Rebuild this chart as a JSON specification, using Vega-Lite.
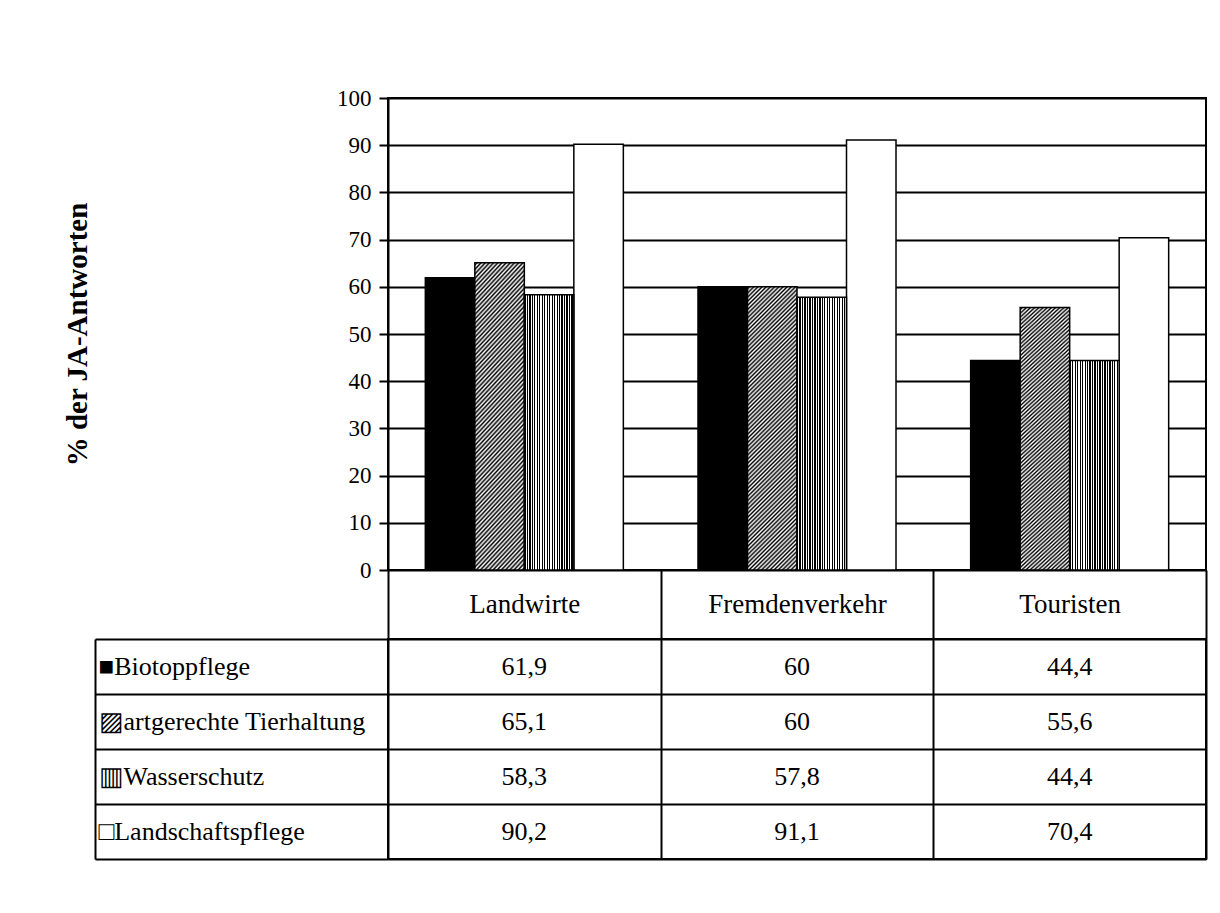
{
  "$schema": "https://vega.github.io/schema/vega-lite/v6.json",
  "autosize": {"type": "pad"},
  "padding": {"left": 62, "top": 86, "right": 10, "bottom": 10},
  "background": "white",
  "config": {
    "view": {"stroke": "black", "strokeWidth": 2},
    "axis": {
      "domainColor": "black", "domainWidth": 2,
      "tickColor": "black", "tickWidth": 2,
      "gridColor": "black", "gridWidth": 2, "gridOpacity": 1,
      "labelColor": "black", "labelFont": "Liberation Serif", "labelFontSize": 23,
      "titleColor": "black", "titleFont": "Liberation Serif"
    },
    "locale": {"number": {"decimal": ",", "thousands": ".", "grouping": [3], "currency": ["", " €"]}}
  },
  "data": {"values": [
    {"category": "Landwirte", "series": "Biotoppflege", "value": 61.9},
    {"category": "Landwirte", "series": "artgerechte Tierhaltung", "value": 65.1},
    {"category": "Landwirte", "series": "Wasserschutz", "value": 58.3},
    {"category": "Landwirte", "series": "Landschaftspflege", "value": 90.2},
    {"category": "Fremdenverkehr", "series": "Biotoppflege", "value": 60},
    {"category": "Fremdenverkehr", "series": "artgerechte Tierhaltung", "value": 60},
    {"category": "Fremdenverkehr", "series": "Wasserschutz", "value": 57.8},
    {"category": "Fremdenverkehr", "series": "Landschaftspflege", "value": 91.1},
    {"category": "Touristen", "series": "Biotoppflege", "value": 44.4},
    {"category": "Touristen", "series": "artgerechte Tierhaltung", "value": 55.6},
    {"category": "Touristen", "series": "Wasserschutz", "value": 44.4},
    {"category": "Touristen", "series": "Landschaftspflege", "value": 70.4}
  ]},
  "bounds": "flush",
  "spacing": 69,
  "vconcat": [
    {
      "width": 818,
      "height": 472,
      "encoding": {
        "x": {"field": "category", "type": "nominal", "sort": ["Landwirte", "Fremdenverkehr", "Touristen"], "scale": {"paddingInner": 0, "paddingOuter": 0}, "axis": null},
        "xOffset": {"field": "series", "type": "nominal", "scale": {"domain": ["Biotoppflege", "artgerechte Tierhaltung", "Wasserschutz", "Landschaftspflege"], "paddingInner": 0, "paddingOuter": 0.754}},
        "y": {"field": "value", "type": "quantitative", "scale": {"domain": [0, 100], "nice": false},
          "axis": {"values": [0, 10, 20, 30, 40, 50, 60, 70, 80, 90, 100], "grid": true, "tickSize": 9, "labelPadding": 8,
            "title": "% der JA-Antworten", "titleFontSize": 29, "titleFontWeight": "bold", "titlePadding": 244}}
      },
      "layer": [
        {
          "transform": [{"filter": "datum.series === 'Biotoppflege' || datum.series === 'Landschaftspflege'"}],
          "mark": {"type": "bar", "stroke": "black", "strokeWidth": 1.5},
          "encoding": {"fill": {"condition": {"test": "datum.series === 'Biotoppflege'", "value": "black"}, "value": "white"}}
        },
        {
          "transform": [{"filter": "datum.series === 'artgerechte Tierhaltung'"}],
          "mark": {"type": "bar", "stroke": "black", "strokeWidth": 1.5,
            "fill": {"gradient": "linear", "x1": 0, "y1": 0, "x2": 0.198, "y2": 1.1395, "stops": [
              {"offset": 0, "color": "#fff"}, {"offset": 0.00625, "color": "#000"}, {"offset": 0.0125, "color": "#fff"}, {"offset": 0.01875, "color": "#000"}, {"offset": 0.025, "color": "#fff"}, {"offset": 0.03125, "color": "#000"}, {"offset": 0.0375, "color": "#fff"}, {"offset": 0.04375, "color": "#000"},
              {"offset": 0.05, "color": "#fff"}, {"offset": 0.05625, "color": "#000"}, {"offset": 0.0625, "color": "#fff"}, {"offset": 0.06875, "color": "#000"}, {"offset": 0.075, "color": "#fff"}, {"offset": 0.08125, "color": "#000"}, {"offset": 0.0875, "color": "#fff"}, {"offset": 0.09375, "color": "#000"},
              {"offset": 0.1, "color": "#fff"}, {"offset": 0.10625, "color": "#000"}, {"offset": 0.1125, "color": "#fff"}, {"offset": 0.11875, "color": "#000"}, {"offset": 0.125, "color": "#fff"}, {"offset": 0.13125, "color": "#000"}, {"offset": 0.1375, "color": "#fff"}, {"offset": 0.14375, "color": "#000"},
              {"offset": 0.15, "color": "#fff"}, {"offset": 0.15625, "color": "#000"}, {"offset": 0.1625, "color": "#fff"}, {"offset": 0.16875, "color": "#000"}, {"offset": 0.175, "color": "#fff"}, {"offset": 0.18125, "color": "#000"}, {"offset": 0.1875, "color": "#fff"}, {"offset": 0.19375, "color": "#000"},
              {"offset": 0.2, "color": "#fff"}, {"offset": 0.20625, "color": "#000"}, {"offset": 0.2125, "color": "#fff"}, {"offset": 0.21875, "color": "#000"}, {"offset": 0.225, "color": "#fff"}, {"offset": 0.23125, "color": "#000"}, {"offset": 0.2375, "color": "#fff"}, {"offset": 0.24375, "color": "#000"},
              {"offset": 0.25, "color": "#fff"}, {"offset": 0.25625, "color": "#000"}, {"offset": 0.2625, "color": "#fff"}, {"offset": 0.26875, "color": "#000"}, {"offset": 0.275, "color": "#fff"}, {"offset": 0.28125, "color": "#000"}, {"offset": 0.2875, "color": "#fff"}, {"offset": 0.29375, "color": "#000"},
              {"offset": 0.3, "color": "#fff"}, {"offset": 0.30625, "color": "#000"}, {"offset": 0.3125, "color": "#fff"}, {"offset": 0.31875, "color": "#000"}, {"offset": 0.325, "color": "#fff"}, {"offset": 0.33125, "color": "#000"}, {"offset": 0.3375, "color": "#fff"}, {"offset": 0.34375, "color": "#000"},
              {"offset": 0.35, "color": "#fff"}, {"offset": 0.35625, "color": "#000"}, {"offset": 0.3625, "color": "#fff"}, {"offset": 0.36875, "color": "#000"}, {"offset": 0.375, "color": "#fff"}, {"offset": 0.38125, "color": "#000"}, {"offset": 0.3875, "color": "#fff"}, {"offset": 0.39375, "color": "#000"},
              {"offset": 0.4, "color": "#fff"}, {"offset": 0.40625, "color": "#000"}, {"offset": 0.4125, "color": "#fff"}, {"offset": 0.41875, "color": "#000"}, {"offset": 0.425, "color": "#fff"}, {"offset": 0.43125, "color": "#000"}, {"offset": 0.4375, "color": "#fff"}, {"offset": 0.44375, "color": "#000"},
              {"offset": 0.45, "color": "#fff"}, {"offset": 0.45625, "color": "#000"}, {"offset": 0.4625, "color": "#fff"}, {"offset": 0.46875, "color": "#000"}, {"offset": 0.475, "color": "#fff"}, {"offset": 0.48125, "color": "#000"}, {"offset": 0.4875, "color": "#fff"}, {"offset": 0.49375, "color": "#000"},
              {"offset": 0.5, "color": "#fff"}, {"offset": 0.50625, "color": "#000"}, {"offset": 0.5125, "color": "#fff"}, {"offset": 0.51875, "color": "#000"}, {"offset": 0.525, "color": "#fff"}, {"offset": 0.53125, "color": "#000"}, {"offset": 0.5375, "color": "#fff"}, {"offset": 0.54375, "color": "#000"},
              {"offset": 0.55, "color": "#fff"}, {"offset": 0.55625, "color": "#000"}, {"offset": 0.5625, "color": "#fff"}, {"offset": 0.56875, "color": "#000"}, {"offset": 0.575, "color": "#fff"}, {"offset": 0.58125, "color": "#000"}, {"offset": 0.5875, "color": "#fff"}, {"offset": 0.59375, "color": "#000"},
              {"offset": 0.6, "color": "#fff"}, {"offset": 0.60625, "color": "#000"}, {"offset": 0.6125, "color": "#fff"}, {"offset": 0.61875, "color": "#000"}, {"offset": 0.625, "color": "#fff"}, {"offset": 0.63125, "color": "#000"}, {"offset": 0.6375, "color": "#fff"}, {"offset": 0.64375, "color": "#000"},
              {"offset": 0.65, "color": "#fff"}, {"offset": 0.65625, "color": "#000"}, {"offset": 0.6625, "color": "#fff"}, {"offset": 0.66875, "color": "#000"}, {"offset": 0.675, "color": "#fff"}, {"offset": 0.68125, "color": "#000"}, {"offset": 0.6875, "color": "#fff"}, {"offset": 0.69375, "color": "#000"},
              {"offset": 0.7, "color": "#fff"}, {"offset": 0.70625, "color": "#000"}, {"offset": 0.7125, "color": "#fff"}, {"offset": 0.71875, "color": "#000"}, {"offset": 0.725, "color": "#fff"}, {"offset": 0.73125, "color": "#000"}, {"offset": 0.7375, "color": "#fff"}, {"offset": 0.74375, "color": "#000"},
              {"offset": 0.75, "color": "#fff"}, {"offset": 0.75625, "color": "#000"}, {"offset": 0.7625, "color": "#fff"}, {"offset": 0.76875, "color": "#000"}, {"offset": 0.775, "color": "#fff"}, {"offset": 0.78125, "color": "#000"}, {"offset": 0.7875, "color": "#fff"}, {"offset": 0.79375, "color": "#000"},
              {"offset": 0.8, "color": "#fff"}, {"offset": 0.80625, "color": "#000"}, {"offset": 0.8125, "color": "#fff"}, {"offset": 0.81875, "color": "#000"}, {"offset": 0.825, "color": "#fff"}, {"offset": 0.83125, "color": "#000"}, {"offset": 0.8375, "color": "#fff"}, {"offset": 0.84375, "color": "#000"},
              {"offset": 0.85, "color": "#fff"}, {"offset": 0.85625, "color": "#000"}, {"offset": 0.8625, "color": "#fff"}, {"offset": 0.86875, "color": "#000"}, {"offset": 0.875, "color": "#fff"}, {"offset": 0.88125, "color": "#000"}, {"offset": 0.8875, "color": "#fff"}, {"offset": 0.89375, "color": "#000"},
              {"offset": 0.9, "color": "#fff"}, {"offset": 0.90625, "color": "#000"}, {"offset": 0.9125, "color": "#fff"}, {"offset": 0.91875, "color": "#000"}, {"offset": 0.925, "color": "#fff"}, {"offset": 0.93125, "color": "#000"}, {"offset": 0.9375, "color": "#fff"}, {"offset": 0.94375, "color": "#000"},
              {"offset": 0.95, "color": "#fff"}, {"offset": 0.95625, "color": "#000"}, {"offset": 0.9625, "color": "#fff"}, {"offset": 0.96875, "color": "#000"}, {"offset": 0.975, "color": "#fff"}, {"offset": 0.98125, "color": "#000"}, {"offset": 0.9875, "color": "#fff"}, {"offset": 0.99375, "color": "#000"},
              {"offset": 1, "color": "#fff"}
            ]}}
        },
        {
          "transform": [{"filter": "datum.series === 'Wasserschutz'"}],
          "mark": {"type": "bar", "stroke": "black", "strokeWidth": 1.5,
            "fill": {"gradient": "linear", "x1": 0, "y1": 0, "x2": 1, "y2": 0, "stops": [
              {"offset": 0, "color": "#000"}, {"offset": 0.025, "color": "#000"}, {"offset": 0.025, "color": "#fff"}, {"offset": 0.05, "color": "#fff"},
              {"offset": 0.05, "color": "#000"}, {"offset": 0.075, "color": "#000"}, {"offset": 0.075, "color": "#fff"}, {"offset": 0.1, "color": "#fff"},
              {"offset": 0.1, "color": "#000"}, {"offset": 0.125, "color": "#000"}, {"offset": 0.125, "color": "#fff"}, {"offset": 0.15, "color": "#fff"},
              {"offset": 0.15, "color": "#000"}, {"offset": 0.175, "color": "#000"}, {"offset": 0.175, "color": "#fff"}, {"offset": 0.2, "color": "#fff"},
              {"offset": 0.2, "color": "#000"}, {"offset": 0.225, "color": "#000"}, {"offset": 0.225, "color": "#fff"}, {"offset": 0.25, "color": "#fff"},
              {"offset": 0.25, "color": "#000"}, {"offset": 0.275, "color": "#000"}, {"offset": 0.275, "color": "#fff"}, {"offset": 0.3, "color": "#fff"},
              {"offset": 0.3, "color": "#000"}, {"offset": 0.325, "color": "#000"}, {"offset": 0.325, "color": "#fff"}, {"offset": 0.35, "color": "#fff"},
              {"offset": 0.35, "color": "#000"}, {"offset": 0.375, "color": "#000"}, {"offset": 0.375, "color": "#fff"}, {"offset": 0.4, "color": "#fff"},
              {"offset": 0.4, "color": "#000"}, {"offset": 0.425, "color": "#000"}, {"offset": 0.425, "color": "#fff"}, {"offset": 0.45, "color": "#fff"},
              {"offset": 0.45, "color": "#000"}, {"offset": 0.475, "color": "#000"}, {"offset": 0.475, "color": "#fff"}, {"offset": 0.5, "color": "#fff"},
              {"offset": 0.5, "color": "#000"}, {"offset": 0.525, "color": "#000"}, {"offset": 0.525, "color": "#fff"}, {"offset": 0.55, "color": "#fff"},
              {"offset": 0.55, "color": "#000"}, {"offset": 0.575, "color": "#000"}, {"offset": 0.575, "color": "#fff"}, {"offset": 0.6, "color": "#fff"},
              {"offset": 0.6, "color": "#000"}, {"offset": 0.625, "color": "#000"}, {"offset": 0.625, "color": "#fff"}, {"offset": 0.65, "color": "#fff"},
              {"offset": 0.65, "color": "#000"}, {"offset": 0.675, "color": "#000"}, {"offset": 0.675, "color": "#fff"}, {"offset": 0.7, "color": "#fff"},
              {"offset": 0.7, "color": "#000"}, {"offset": 0.725, "color": "#000"}, {"offset": 0.725, "color": "#fff"}, {"offset": 0.75, "color": "#fff"},
              {"offset": 0.75, "color": "#000"}, {"offset": 0.775, "color": "#000"}, {"offset": 0.775, "color": "#fff"}, {"offset": 0.8, "color": "#fff"},
              {"offset": 0.8, "color": "#000"}, {"offset": 0.825, "color": "#000"}, {"offset": 0.825, "color": "#fff"}, {"offset": 0.85, "color": "#fff"},
              {"offset": 0.85, "color": "#000"}, {"offset": 0.875, "color": "#000"}, {"offset": 0.875, "color": "#fff"}, {"offset": 0.9, "color": "#fff"},
              {"offset": 0.9, "color": "#000"}, {"offset": 0.925, "color": "#000"}, {"offset": 0.925, "color": "#fff"}, {"offset": 0.95, "color": "#fff"},
              {"offset": 0.95, "color": "#000"}, {"offset": 0.975, "color": "#000"}, {"offset": 0.975, "color": "#fff"}, {"offset": 1, "color": "#fff"}
            ]}}
        }
      ]
    },
    {
      "width": 818,
      "height": 220,
      "mark": {"type": "text", "font": "Liberation Serif", "fontSize": 26, "color": "black"},
      "encoding": {
        "x": {"field": "category", "type": "nominal", "sort": ["Landwirte", "Fremdenverkehr", "Touristen"], "scale": {"paddingInner": 0, "paddingOuter": 0},
          "axis": {"orient": "top", "title": null, "tickBand": "extent", "tickSize": 69, "labelPadding": -34.5, "labelBaseline": "middle", "labelAlign": "center", "labelAngle": 0, "labelFontSize": 27, "domain": false, "grid": true}},
        "y": {"field": "series", "type": "nominal", "scale": {"domain": ["Biotoppflege", "artgerechte Tierhaltung", "Wasserschutz", "Landschaftspflege"], "paddingInner": 0, "paddingOuter": 0},
          "axis": {"title": null, "offset": 293, "tickBand": "extent", "tickSize": -293, "labelPadding": 290, "labelAlign": "left", "labelBaseline": "middle", "labelFontSize": 26, "labelLimit": 400, "grid": true, "domain": true,
            "labelExpr": "datum.value ? ((datum.value == 'Biotoppflege' ? '■' : datum.value == 'artgerechte Tierhaltung' ? '▨' : datum.value == 'Wasserschutz' ? '▥' : '□') + datum.value) : ''"}},
        "text": {"field": "value", "type": "quantitative", "format": ".1~f"}
      }
    }
  ]
}
